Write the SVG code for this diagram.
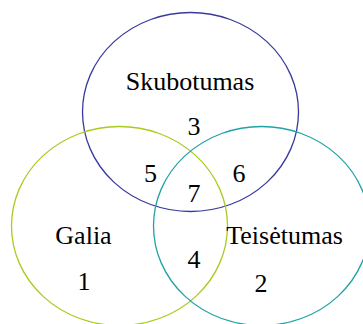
<svg xmlns="http://www.w3.org/2000/svg" width="363" height="324" viewBox="0 0 363 324">
<style>
.c{fill:none;stroke-width:1.3}
.t{font-family:"Liberation Serif","Times New Roman",serif;font-size:26px;fill:#000;text-anchor:middle}
</style>
<rect width="363" height="324" fill="#fff"/>
<g id="skubotumas">
<ellipse class="c" cx="190.5" cy="112" rx="108" ry="99.5" stroke="#3a3a9c"/>
<text class="t" x="190" y="90">Skubotumas</text>
</g>
<g id="galia">
<ellipse class="c" cx="119.5" cy="226" rx="108" ry="99.5" stroke="#a8cc1e"/>
<text class="t" x="83.5" y="243.5">Galia</text>
</g>
<g id="teisetumas">
<ellipse class="c" cx="261.5" cy="226" rx="108" ry="99.5" stroke="#1fa3a6"/>
<text class="t" x="284.5" y="243.5">Teisėtumas</text>
</g>
<g id="regions">
<text class="t" x="194" y="135">3</text>
<text class="t" x="150.5" y="181.5">5</text>
<text class="t" x="239" y="181.5">6</text>
<text class="t" x="194" y="201.5">7</text>
<text class="t" x="194" y="268">4</text>
<text class="t" x="84" y="290">1</text>
<text class="t" x="261" y="292">2</text>
</g>
<g id="connectors"></g>
</svg>
